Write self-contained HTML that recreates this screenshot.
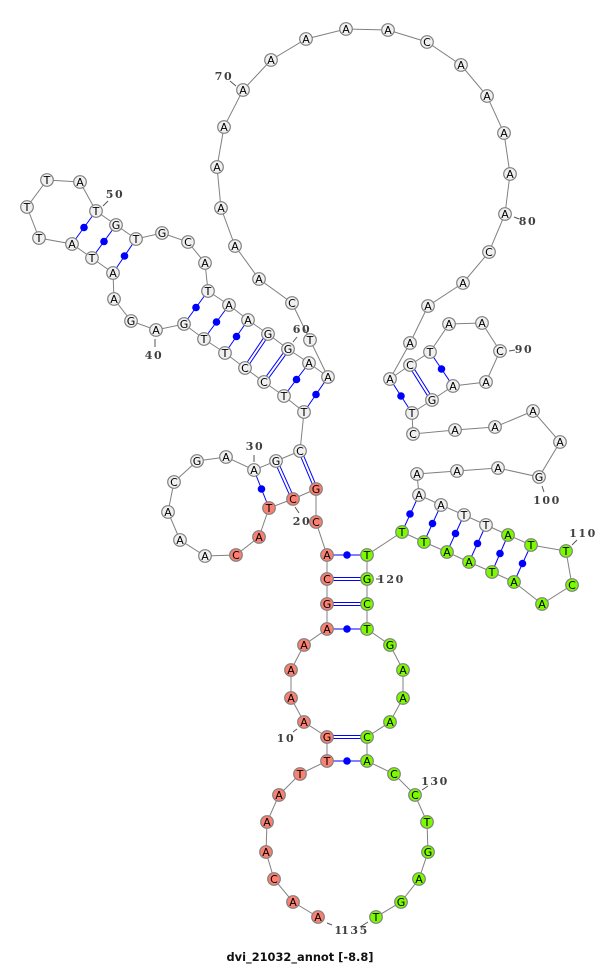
<!DOCTYPE html>
<html>
<head>
<meta charset="utf-8">
<style>
html,body{margin:0;padding:0;background:#fff}
svg{display:block}
.b{fill:none;stroke:#808080;stroke-width:1}
.p{stroke:#0000ff;stroke-width:1;fill:none}
.d{fill:#0000ff}
.w circle{fill:#f0f0f0}
.r circle{fill:#fa8072}
.g circle{fill:#7cfa00}
.n circle{stroke:#808080;stroke-width:1.2}
.n text{font:11px "DejaVu Sans",sans-serif;fill:#000;text-anchor:middle;transform:translateY(.4px)}
.l text{font:bold 11px "DejaVu Serif",serif;fill:#404040;text-anchor:middle;letter-spacing:1.6px}
.t{stroke:#555;stroke-width:1;fill:none}
.title{font:bold 11.4px "DejaVu Sans",sans-serif;fill:#111;text-anchor:middle}
</style>
</head>
<body>
<svg width="600" height="965" viewBox="0 0 600 965" xmlns="http://www.w3.org/2000/svg">
<polyline class="b" points="318,917 293,902 274,879 266,852 267,822 279,795 300,774 327,761 327,737 304,722 291,698 291,670 304,645 327,629 327,604 327,579 327,555 316,522 316,489 293,499 269,508 259,537 236,555 205,556 180,540 168,512 174,482 197,461 226,457 254,470 276,461 300,451 304,412 284,396 264,382 245,368 225,353 204,339 184,324 156,330 131,321 114,299 113,273 92,258 72,244 39,238 27,207 47,180 80,182 96,211 116,225 136,239 162,233 188,242 205,263 208,291 229,305 248,320 268,334 288,349 309,363 328,377 310,340 292,303 259,279 235,246 221,208 217,167 224,127 243,90 271,60 306,39 346,29 388,30 427,42 461,65 487,96 504,133 510,174 505,214 489,252 463,283 428,306 410,343 390,379 410,365 430,352 449,324 482,323 500,351 486,382 453,386 432,400 412,413 413,434 455,430 495,427 533,411 560,442 539,477 498,468 457,471 417,474 419,495 441,505 464,515 486,525 508,535 531,545 566,551 572,585 542,604 514,582 492,572 469,562 447,552 424,542 402,532 367,555 367,579 367,604 367,629 390,645 403,670 403,698 390,722 367,737 367,761 394,774 415,795 427,822 428,852 419,879 401,902 376,917"/>
<g class="p">
<line x1="327" y1="761" x2="367" y2="761"/>
<line x1="327" y1="735.5" x2="367" y2="735.5"/><line x1="327" y1="738.5" x2="367" y2="738.5"/>
<line x1="327" y1="629" x2="367" y2="629"/>
<line x1="327" y1="602.5" x2="367" y2="602.5"/><line x1="327" y1="605.5" x2="367" y2="605.5"/>
<line x1="327" y1="577.5" x2="367" y2="577.5"/><line x1="327" y1="580.5" x2="367" y2="580.5"/>
<line x1="327" y1="555" x2="367" y2="555"/>
<line x1="317.4" y1="488.4" x2="301.4" y2="450.4"/><line x1="314.6" y1="489.6" x2="298.6" y2="451.6"/>
<line x1="294.4" y1="498.4" x2="277.4" y2="460.4"/><line x1="291.6" y1="499.6" x2="274.6" y2="461.6"/>
<line x1="269" y1="508" x2="254" y2="470"/>
<line x1="304" y1="412" x2="328" y2="377"/>
<line x1="284" y1="396" x2="309" y2="363"/>
<line x1="265.2" y1="382.9" x2="289.2" y2="349.9"/><line x1="262.8" y1="381.1" x2="286.8" y2="348.1"/>
<line x1="246.2" y1="368.85" x2="269.2" y2="334.85"/><line x1="243.8" y1="367.15" x2="266.8" y2="333.15"/>
<line x1="225" y1="353" x2="248" y2="320"/>
<line x1="204" y1="339" x2="229" y2="305"/>
<line x1="184" y1="324" x2="208" y2="291"/>
<line x1="113" y1="273" x2="136" y2="239"/>
<line x1="92" y1="258" x2="116" y2="225"/>
<line x1="72" y1="244" x2="96" y2="211"/>
<line x1="390" y1="379" x2="412" y2="413"/>
<line x1="411.3" y1="364.2" x2="433.3" y2="399.2"/><line x1="408.7" y1="365.8" x2="430.7" y2="400.8"/>
<line x1="430" y1="352" x2="453" y2="386"/>
<line x1="419" y1="495" x2="402" y2="532"/>
<line x1="441" y1="505" x2="424" y2="542"/>
<line x1="464" y1="515" x2="447" y2="552"/>
<line x1="486" y1="525" x2="469" y2="562"/>
<line x1="508" y1="535" x2="492" y2="572"/>
<line x1="531" y1="545" x2="514" y2="582"/>
</g>
<g class="d">
<circle cx="347" cy="761" r="3.8"/><circle cx="347" cy="629" r="3.8"/><circle cx="347" cy="555" r="3.8"/><circle cx="261.5" cy="489" r="3.8"/><circle cx="316" cy="394.5" r="3.8"/><circle cx="296.5" cy="379.5" r="3.8"/><circle cx="236.5" cy="336.5" r="3.8"/><circle cx="216.5" cy="322" r="3.8"/><circle cx="196" cy="307.5" r="3.8"/><circle cx="124.5" cy="256" r="3.8"/><circle cx="104" cy="241.5" r="3.8"/><circle cx="84" cy="227.5" r="3.8"/><circle cx="401" cy="396" r="3.8"/><circle cx="441.5" cy="369" r="3.8"/><circle cx="410" cy="514" r="3.8"/><circle cx="432.5" cy="523.5" r="3.8"/><circle cx="455.5" cy="533.5" r="3.8"/><circle cx="477.5" cy="543.5" r="3.8"/><circle cx="500" cy="553.5" r="3.8"/><circle cx="522.5" cy="563.5" r="3.8"/>
</g>
<g class="t">
<line x1="293" y1="732" x2="297" y2="729"/><line x1="422" y1="790" x2="428" y2="786"/><line x1="327" y1="923" x2="332" y2="925"/><line x1="360" y1="927" x2="368" y2="922"/><line x1="103" y1="206" x2="108" y2="201"/><line x1="155" y1="339" x2="155" y2="347"/><line x1="293" y1="342" x2="297" y2="337"/><line x1="254" y1="455" x2="254" y2="462"/><line x1="295" y1="507" x2="299" y2="513"/><line x1="376" y1="579" x2="382" y2="579"/><line x1="230" y1="81" x2="236" y2="86"/><line x1="514" y1="217" x2="519" y2="219"/><line x1="509" y1="351" x2="515" y2="350"/><line x1="542" y1="486" x2="544" y2="492"/><line x1="572" y1="545" x2="577" y2="540"/>
</g>
<g class="n r">
<circle cx="318" cy="917" r="6.3"/><text x="318" y="920.6">A</text>
<circle cx="293" cy="902" r="6.3"/><text x="293" y="905.6">A</text>
<circle cx="274" cy="879" r="6.3"/><text x="274" y="882.6">C</text>
<circle cx="266" cy="852" r="6.3"/><text x="266" y="855.6">A</text>
<circle cx="267" cy="822" r="6.3"/><text x="267" y="825.6">A</text>
<circle cx="279" cy="795" r="6.3"/><text x="279" y="798.6">A</text>
<circle cx="300" cy="774" r="6.3"/><text x="300" y="777.6">T</text>
<circle cx="327" cy="761" r="6.3"/><text x="327" y="764.6">T</text>
<circle cx="327" cy="737" r="6.3"/><text x="327" y="740.6">G</text>
<circle cx="304" cy="722" r="6.3"/><text x="304" y="725.6">A</text>
<circle cx="291" cy="698" r="6.3"/><text x="291" y="701.6">A</text>
<circle cx="291" cy="670" r="6.3"/><text x="291" y="673.6">A</text>
<circle cx="304" cy="645" r="6.3"/><text x="304" y="648.6">A</text>
<circle cx="327" cy="629" r="6.3"/><text x="327" y="632.6">A</text>
<circle cx="327" cy="604" r="6.3"/><text x="327" y="607.6">G</text>
<circle cx="327" cy="579" r="6.3"/><text x="327" y="582.6">C</text>
<circle cx="327" cy="555" r="6.3"/><text x="327" y="558.6">A</text>
<circle cx="316" cy="522" r="6.3"/><text x="316" y="525.6">C</text>
<circle cx="316" cy="489" r="6.3"/><text x="316" y="492.6">G</text>
<circle cx="293" cy="499" r="6.3"/><text x="293" y="502.6">C</text>
<circle cx="269" cy="508" r="6.3"/><text x="269" y="511.6">T</text>
<circle cx="259" cy="537" r="6.3"/><text x="259" y="540.6">A</text>
<circle cx="236" cy="555" r="6.3"/><text x="236" y="558.6">C</text>
</g>
<g class="n w">
<circle cx="205" cy="556" r="6.3"/><text x="205" y="559.6">A</text>
<circle cx="180" cy="540" r="6.3"/><text x="180" y="543.6">A</text>
<circle cx="168" cy="512" r="6.3"/><text x="168" y="515.6">A</text>
<circle cx="174" cy="482" r="6.3"/><text x="174" y="485.6">C</text>
<circle cx="197" cy="461" r="6.3"/><text x="197" y="464.6">G</text>
<circle cx="226" cy="457" r="6.3"/><text x="226" y="460.6">A</text>
<circle cx="254" cy="470" r="6.3"/><text x="254" y="473.6">A</text>
<circle cx="276" cy="461" r="6.3"/><text x="276" y="464.6">G</text>
<circle cx="300" cy="451" r="6.3"/><text x="300" y="454.6">C</text>
<circle cx="304" cy="412" r="6.3"/><text x="304" y="415.6">T</text>
<circle cx="284" cy="396" r="6.3"/><text x="284" y="399.6">T</text>
<circle cx="264" cy="382" r="6.3"/><text x="264" y="385.6">C</text>
<circle cx="245" cy="368" r="6.3"/><text x="245" y="371.6">C</text>
<circle cx="225" cy="353" r="6.3"/><text x="225" y="356.6">T</text>
<circle cx="204" cy="339" r="6.3"/><text x="204" y="342.6">T</text>
<circle cx="184" cy="324" r="6.3"/><text x="184" y="327.6">G</text>
<circle cx="156" cy="330" r="6.3"/><text x="156" y="333.6">A</text>
<circle cx="131" cy="321" r="6.3"/><text x="131" y="324.6">G</text>
<circle cx="114" cy="299" r="6.3"/><text x="114" y="302.6">A</text>
<circle cx="113" cy="273" r="6.3"/><text x="113" y="276.6">A</text>
<circle cx="92" cy="258" r="6.3"/><text x="92" y="261.6">T</text>
<circle cx="72" cy="244" r="6.3"/><text x="72" y="247.6">A</text>
<circle cx="39" cy="238" r="6.3"/><text x="39" y="241.6">T</text>
<circle cx="27" cy="207" r="6.3"/><text x="27" y="210.6">T</text>
<circle cx="47" cy="180" r="6.3"/><text x="47" y="183.6">T</text>
<circle cx="80" cy="182" r="6.3"/><text x="80" y="185.6">A</text>
<circle cx="96" cy="211" r="6.3"/><text x="96" y="214.6">T</text>
<circle cx="116" cy="225" r="6.3"/><text x="116" y="228.6">G</text>
<circle cx="136" cy="239" r="6.3"/><text x="136" y="242.6">T</text>
<circle cx="162" cy="233" r="6.3"/><text x="162" y="236.6">G</text>
<circle cx="188" cy="242" r="6.3"/><text x="188" y="245.6">C</text>
<circle cx="205" cy="263" r="6.3"/><text x="205" y="266.6">A</text>
<circle cx="208" cy="291" r="6.3"/><text x="208" y="294.6">T</text>
<circle cx="229" cy="305" r="6.3"/><text x="229" y="308.6">A</text>
<circle cx="248" cy="320" r="6.3"/><text x="248" y="323.6">A</text>
<circle cx="268" cy="334" r="6.3"/><text x="268" y="337.6">G</text>
<circle cx="288" cy="349" r="6.3"/><text x="288" y="352.6">G</text>
<circle cx="309" cy="363" r="6.3"/><text x="309" y="366.6">A</text>
<circle cx="328" cy="377" r="6.3"/><text x="328" y="380.6">A</text>
<circle cx="310" cy="340" r="6.3"/><text x="310" y="343.6">T</text>
<circle cx="292" cy="303" r="6.3"/><text x="292" y="306.6">C</text>
<circle cx="259" cy="279" r="6.3"/><text x="259" y="282.6">A</text>
<circle cx="235" cy="246" r="6.3"/><text x="235" y="249.6">A</text>
<circle cx="221" cy="208" r="6.3"/><text x="221" y="211.6">A</text>
<circle cx="217" cy="167" r="6.3"/><text x="217" y="170.6">A</text>
<circle cx="224" cy="127" r="6.3"/><text x="224" y="130.6">A</text>
<circle cx="243" cy="90" r="6.3"/><text x="243" y="93.6">A</text>
<circle cx="271" cy="60" r="6.3"/><text x="271" y="63.6">A</text>
<circle cx="306" cy="39" r="6.3"/><text x="306" y="42.6">A</text>
<circle cx="346" cy="29" r="6.3"/><text x="346" y="32.6">A</text>
<circle cx="388" cy="30" r="6.3"/><text x="388" y="33.6">A</text>
<circle cx="427" cy="42" r="6.3"/><text x="427" y="45.6">C</text>
<circle cx="461" cy="65" r="6.3"/><text x="461" y="68.6">A</text>
<circle cx="487" cy="96" r="6.3"/><text x="487" y="99.6">A</text>
<circle cx="504" cy="133" r="6.3"/><text x="504" y="136.6">A</text>
<circle cx="510" cy="174" r="6.3"/><text x="510" y="177.6">A</text>
<circle cx="505" cy="214" r="6.3"/><text x="505" y="217.6">A</text>
<circle cx="489" cy="252" r="6.3"/><text x="489" y="255.6">C</text>
<circle cx="463" cy="283" r="6.3"/><text x="463" y="286.6">A</text>
<circle cx="428" cy="306" r="6.3"/><text x="428" y="309.6">A</text>
<circle cx="410" cy="343" r="6.3"/><text x="410" y="346.6">A</text>
<circle cx="390" cy="379" r="6.3"/><text x="390" y="382.6">A</text>
<circle cx="410" cy="365" r="6.3"/><text x="410" y="368.6">C</text>
<circle cx="430" cy="352" r="6.3"/><text x="430" y="355.6">T</text>
<circle cx="449" cy="324" r="6.3"/><text x="449" y="327.6">A</text>
<circle cx="482" cy="323" r="6.3"/><text x="482" y="326.6">A</text>
<circle cx="500" cy="351" r="6.3"/><text x="500" y="354.6">C</text>
<circle cx="486" cy="382" r="6.3"/><text x="486" y="385.6">A</text>
<circle cx="453" cy="386" r="6.3"/><text x="453" y="389.6">A</text>
<circle cx="432" cy="400" r="6.3"/><text x="432" y="403.6">G</text>
<circle cx="412" cy="413" r="6.3"/><text x="412" y="416.6">T</text>
<circle cx="413" cy="434" r="6.3"/><text x="413" y="437.6">C</text>
<circle cx="455" cy="430" r="6.3"/><text x="455" y="433.6">A</text>
<circle cx="495" cy="427" r="6.3"/><text x="495" y="430.6">A</text>
<circle cx="533" cy="411" r="6.3"/><text x="533" y="414.6">A</text>
<circle cx="560" cy="442" r="6.3"/><text x="560" y="445.6">A</text>
<circle cx="539" cy="477" r="6.3"/><text x="539" y="480.6">G</text>
<circle cx="498" cy="468" r="6.3"/><text x="498" y="471.6">A</text>
<circle cx="457" cy="471" r="6.3"/><text x="457" y="474.6">A</text>
<circle cx="417" cy="474" r="6.3"/><text x="417" y="477.6">A</text>
<circle cx="419" cy="495" r="6.3"/><text x="419" y="498.6">A</text>
<circle cx="441" cy="505" r="6.3"/><text x="441" y="508.6">A</text>
<circle cx="464" cy="515" r="6.3"/><text x="464" y="518.6">T</text>
<circle cx="486" cy="525" r="6.3"/><text x="486" y="528.6">T</text>
</g>
<g class="n g">
<circle cx="508" cy="535" r="6.3"/><text x="508" y="538.6">A</text>
<circle cx="531" cy="545" r="6.3"/><text x="531" y="548.6">T</text>
<circle cx="566" cy="551" r="6.3"/><text x="566" y="554.6">T</text>
<circle cx="572" cy="585" r="6.3"/><text x="572" y="588.6">C</text>
<circle cx="542" cy="604" r="6.3"/><text x="542" y="607.6">A</text>
<circle cx="514" cy="582" r="6.3"/><text x="514" y="585.6">A</text>
<circle cx="492" cy="572" r="6.3"/><text x="492" y="575.6">T</text>
<circle cx="469" cy="562" r="6.3"/><text x="469" y="565.6">A</text>
<circle cx="447" cy="552" r="6.3"/><text x="447" y="555.6">A</text>
<circle cx="424" cy="542" r="6.3"/><text x="424" y="545.6">T</text>
<circle cx="402" cy="532" r="6.3"/><text x="402" y="535.6">T</text>
<circle cx="367" cy="555" r="6.3"/><text x="367" y="558.6">T</text>
<circle cx="367" cy="579" r="6.3"/><text x="367" y="582.6">G</text>
<circle cx="367" cy="604" r="6.3"/><text x="367" y="607.6">C</text>
<circle cx="367" cy="629" r="6.3"/><text x="367" y="632.6">T</text>
<circle cx="390" cy="645" r="6.3"/><text x="390" y="648.6">G</text>
<circle cx="403" cy="670" r="6.3"/><text x="403" y="673.6">A</text>
<circle cx="403" cy="698" r="6.3"/><text x="403" y="701.6">A</text>
<circle cx="390" cy="722" r="6.3"/><text x="390" y="725.6">A</text>
<circle cx="367" cy="737" r="6.3"/><text x="367" y="740.6">C</text>
<circle cx="367" cy="761" r="6.3"/><text x="367" y="764.6">A</text>
<circle cx="394" cy="774" r="6.3"/><text x="394" y="777.6">C</text>
<circle cx="415" cy="795" r="6.3"/><text x="415" y="798.6">C</text>
<circle cx="427" cy="822" r="6.3"/><text x="427" y="825.6">T</text>
<circle cx="428" cy="852" r="6.3"/><text x="428" y="855.6">G</text>
<circle cx="419" cy="879" r="6.3"/><text x="419" y="882.6">A</text>
<circle cx="401" cy="902" r="6.3"/><text x="401" y="905.6">G</text>
<circle cx="376" cy="917" r="6.3"/><text x="376" y="920.6">T</text>
</g>
<g class="l">
<text x="286" y="742">10</text>
<text x="435" y="785">130</text>
<text x="339" y="934">1</text>
<text x="355" y="934">135</text>
<text x="115" y="198">50</text>
<text x="154" y="359">40</text>
<text x="302" y="333">60</text>
<text x="255" y="450">30</text>
<text x="302" y="525">20</text>
<text x="391" y="583">120</text>
<text x="224" y="80">70</text>
<text x="528" y="225">80</text>
<text x="524" y="353">90</text>
<text x="547" y="504">100</text>
<text x="583" y="537">110</text>
</g>
<text class="title" x="300" y="961">dvi_21032_annot [-8.8]</text>
</svg>
</body>
</html>
